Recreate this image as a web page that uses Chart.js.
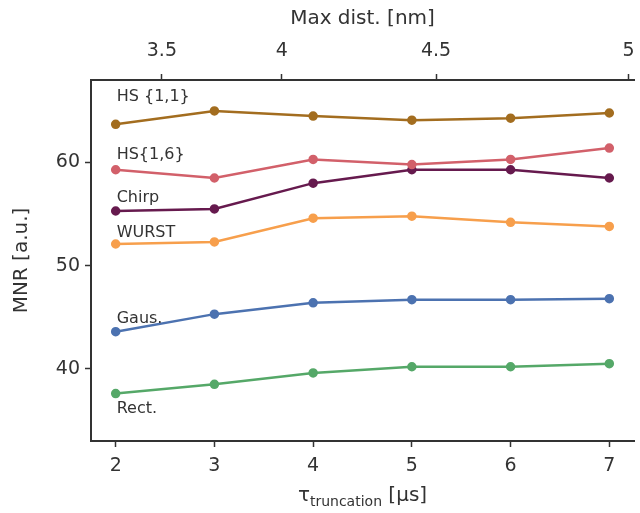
<!DOCTYPE html>
<html>
<head>
<meta charset="utf-8">
<title>MNR vs truncation</title>
<script src="https://cdn.jsdelivr.net/npm/chart.js@4/dist/chart.umd.min.js"></script>
<style>
  html, body { margin: 0; padding: 0; background: #fff; }
  #wrap { width: 640px; height: 513px; }
</style>
</head>
<body>
<div id="wrap"><canvas id="chart" width="640" height="513"></canvas></div>
<script>
// Data
var tau = [2, 3, 4, 5, 6, 7];               // truncation time [us]
var distTicks = [3.5, 4, 4.5, 5];           // top axis tick labels [nm]
var yTicks = [40, 50, 60];

var seriesNames = ['HS {1,1}', 'HS{1,6}', 'Chirp', 'WURST', 'Gaus.', 'Rect.'];
var hs11  = [63.7, 65.0, 64.5, 64.1, 64.3, 64.8];
var hs16  = [59.3, 58.5, 60.3, 59.8, 60.3, 61.4];
var chirp = [55.3, 55.5, 58.0, 59.3, 59.3, 58.5];
var wurst = [52.1, 52.3, 54.6, 54.8, 54.2, 53.8];
var gaus  = [43.6, 45.3, 46.4, 46.7, 46.7, 46.8];
var rect  = [37.6, 38.5, 39.6, 40.2, 40.2, 40.5];

// where the series names sit (data coords, at tau = 2)
var labelY = [66.4, 60.7, 56.6, 53.2, 44.85, 36.1];

var colors = ['#a36d1f', '#d2606a', '#661a4e', '#f79f4c', '#4c72b0', '#55a868'];

// max distance scales as tau^(1/3)
function distToTau(d) { return Math.pow(d / 2.59, 3); }

document.addEventListener('DOMContentLoaded', function () {
    var ctx = document.getElementById('chart').getContext('2d');
    var allSeries = [hs11, hs16, chirp, wurst, gaus, rect];
    var textColor = '#333';
    var font = 'DejaVu Sans';

    var datasets = allSeries.map(function (vals, i) {
        return {
            label: seriesNames[i],
            data: tau.map(function (t, j) { return { x: t, y: vals[j] }; }),
            borderColor: colors[i],
            backgroundColor: colors[i],
            borderWidth: 2.5,
            pointRadius: 3.5,
            pointHoverRadius: 3.5,
            tension: 0
        };
    });

    // series names and the bottom title with subscript
    var textPlugin = {
        id: 'texts',
        afterDraw: function (chart) {
            var c = chart.ctx;
            var xs = chart.scales.x, ys = chart.scales.y;
            c.save();
            c.fillStyle = textColor;
            c.textBaseline = 'middle';
            c.textAlign = 'left';
            c.font = '16px "' + font + '"';
            seriesNames.forEach(function (name, i) {
                c.fillText(name, xs.getPixelForValue(tau[0]) + 1, ys.getPixelForValue(labelY[i]));
            });

            // tau_truncation [us]
            var area = chart.chartArea;
            var cx = (area.left + area.right) / 2;
            var base = 501;
            c.textBaseline = 'alphabetic';
            var big = '20px "' + font + '"', small = '14px "' + font + '"';
            c.font = big;
            var w1 = c.measureText('\u03c4').width;
            var w3 = c.measureText(' [\u03bcs]').width;
            c.font = small;
            var w2 = c.measureText('truncation').width;
            var x0 = cx - (w1 + w2 + w3) / 2;
            c.font = big;
            c.fillText('\u03c4', x0, base);
            c.font = small;
            c.fillText('truncation', x0 + w1, base + 5);
            c.font = big;
            c.fillText(' [\u03bcs]', x0 + w1 + w2, base);
            c.restore();
        }
    };

    var axisBase = {
        border: { display: true, color: textColor, width: 2 },
        grid: { display: true, drawOnChartArea: false, drawTicks: true, tickLength: 6, tickWidth: 1.5, tickColor: textColor }
    };

    new Chart(ctx, {
        type: 'line',
        data: { datasets: datasets },
        plugins: [textPlugin],
        options: {
            responsive: false,
            animation: false,
            layout: { padding: { left: 0, right: -2, top: 0, bottom: 0 } },
            plugins: { legend: { display: false }, tooltip: { enabled: false } },
            scales: {
                x: Object.assign({}, axisBase, {
                    type: 'linear',
                    position: 'bottom',
                    min: 1.75,
                    max: 7.25,
                    afterBuildTicks: function (scale) {
                        scale.ticks = tau.map(function (t) { return { value: t }; });
                    },
                    ticks: { color: textColor, font: { family: font, size: 19 }, padding: 8, maxRotation: 0,
                        callback: function (v) { return String(v); } },
                    afterFit: function (scale) {
                        scale.height = 72;
                        scale.paddingLeft = 0;
                        scale.paddingRight = 0;
                    }
                }),
                x2: Object.assign({}, axisBase, {
                    type: 'linear',
                    position: 'top',
                    min: 1.75,
                    max: 7.25,
                    afterBuildTicks: function (scale) {
                        scale.ticks = distTicks.map(function (d) { return { value: distToTau(d) }; });
                    },
                    ticks: { color: textColor, font: { family: font, size: 19 }, padding: 12, maxRotation: 0,
                        callback: function (v, i) { return String(distTicks[i]); } },
                    title: { display: true, text: 'Max dist. [nm]', color: textColor, font: { family: font, size: 20 }, padding: { top: 7, bottom: 0 } },
                    afterFit: function (scale) {
                        scale.height = 80;
                        scale.paddingLeft = 0;
                        scale.paddingRight = 0;
                    }
                }),
                y: Object.assign({}, axisBase, {
                    type: 'linear',
                    min: 33,
                    max: 68,
                    afterBuildTicks: function (scale) {
                        scale.ticks = yTicks.map(function (v) { return { value: v }; });
                    },
                    ticks: { color: textColor, font: { family: font, size: 19 }, padding: 5 },
                    title: { display: true, text: 'MNR [a.u.]', color: textColor, font: { family: font, size: 20 }, padding: { top: 10, bottom: 6 } },
                    afterFit: function (scale) {
                        scale.width = 91;
                        scale.paddingTop = 0;
                        scale.paddingBottom = 0;
                    }
                })
            }
        }
    });
});
</script>
</body>
</html>
